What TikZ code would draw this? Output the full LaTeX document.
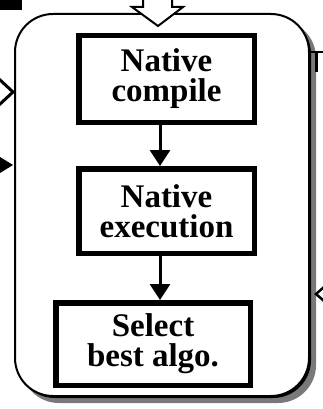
\documentclass[tikz,border=0pt]{standalone}
\usepackage{fontspec}
\setmainfont{Liberation Serif}
\usetikzlibrary{arrows.meta}
\begin{document}
\begin{tikzpicture}[x=1pt,y=-1pt,
  stage/.style={draw, line width=5.5pt, minimum width=175.5pt, align=center,
    font=\fontsize{33}{30}\selectfont\bfseries, inner sep=0pt},
  flow/.style={line width=3pt, -{Triangle[width=20pt,length=16pt]}},
  groupbox/.style={draw, line width=2pt, rounded corners=38pt, fill=white,
    minimum width=294pt, minimum height=382pt, inner sep=0pt},
  hollowarrow/.style={fill=white, draw, line width=2pt, line join=miter}]
\useasboundingbox (0,0) rectangle (323,409);

% drop shadow of the enclosing group
\fill[gray!95!black, rounded corners=38pt] (21,20) rectangle (316,403);
\fill[black, rounded corners=38pt] (17,16) rectangle (311,398);
% enclosing group
\node[groupbox] (grp) at (162,205) {};

% pieces of the surrounding diagram
\fill (0,0) rectangle (22,10);
\filldraw[hollowarrow] (143,-2) -- (143,7) -- (132,7) -- (158,26) -- (183,7) -- (172,7) -- (172,-2);
\draw[line width=3pt] (-1,79) -- (13,92) -- (-1,105);
\fill (0,157) -- (13,165) -- (0,173) -- cycle;
\draw[line width=2.5pt] (324,287) -- (316,294) -- (324,301);
\draw[line width=1.5pt] (310,52) -- (323,52);
\draw[line width=3pt] (316,52) -- (316,72);

% stages
\node[stage, minimum height=86.5pt] (compile) at (166.5,79) {Native\\compile};
\node[stage, minimum height=84.5pt] (execute) at (166.5,211) {Native\\execution};
\node[stage, minimum width=194.5pt, minimum height=82.5pt] (select) at (153,344) {Select\\best algo.};

\coordinate (ax) at (160,0);
\draw[flow] (ax |- compile.south) -- (ax |- execute.north);
\draw[flow] (ax |- execute.south) -- (ax |- select.north);
\end{tikzpicture}
\end{document}
